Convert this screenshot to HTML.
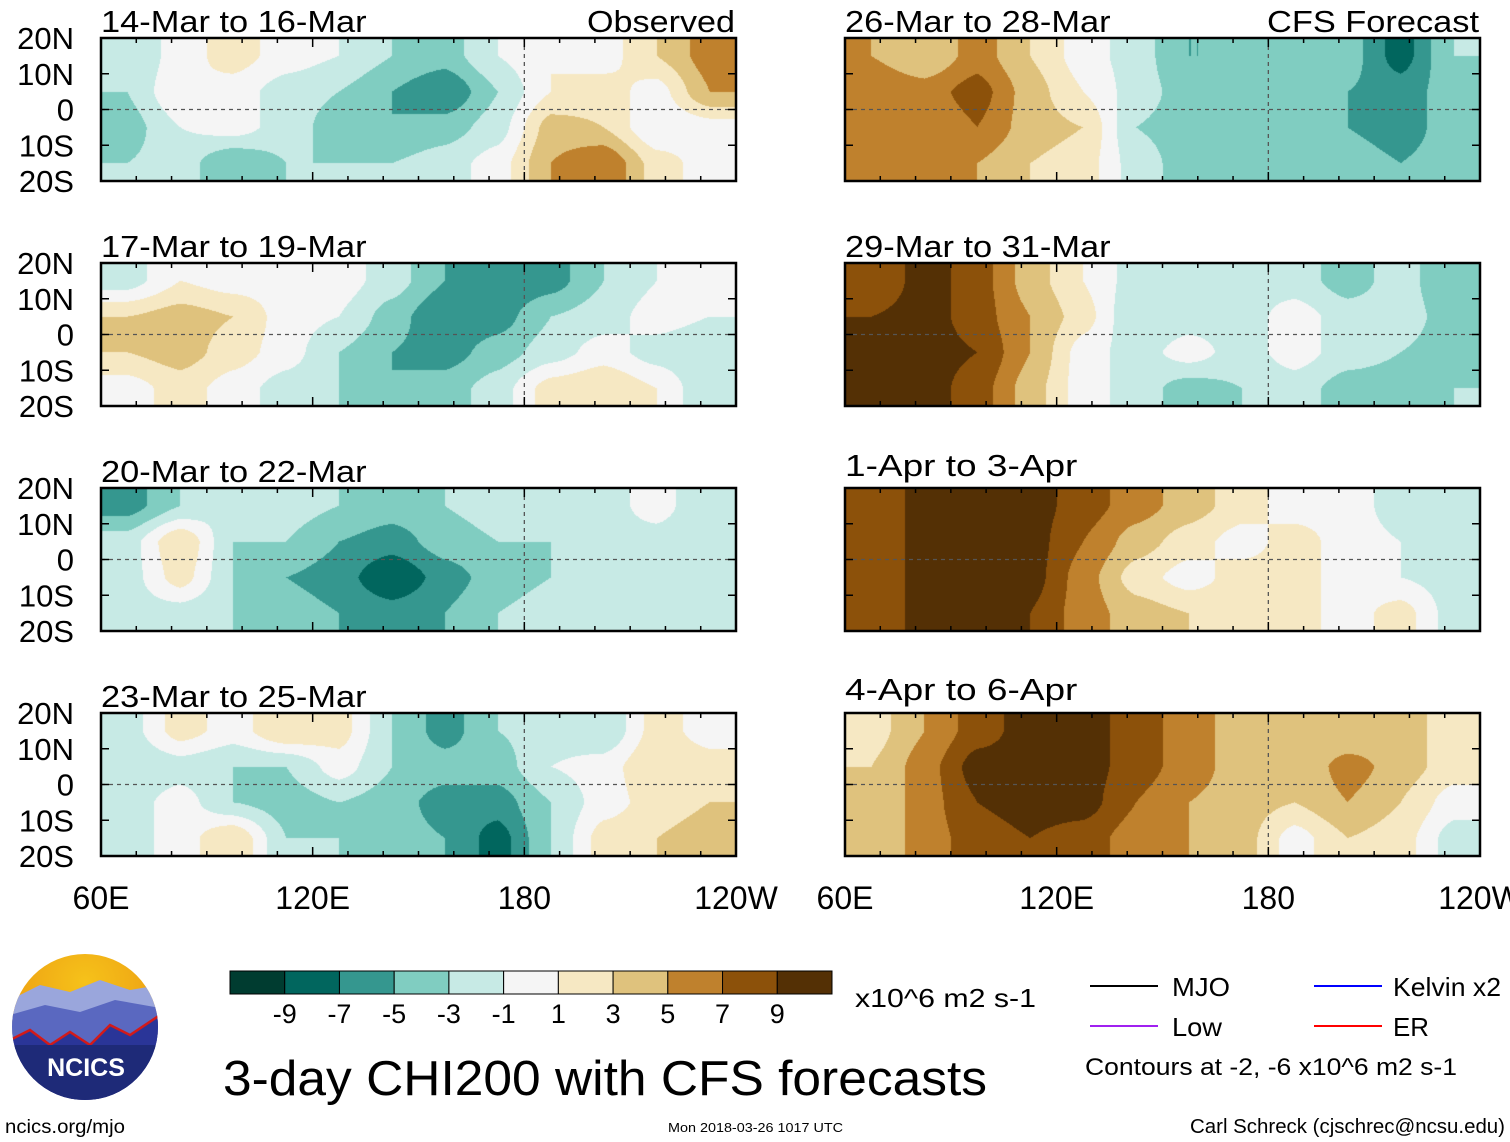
<!DOCTYPE html>
<html><head><meta charset="utf-8">
<style>
html,body{margin:0;padding:0;background:#fff;}
body{width:1510px;height:1142px;overflow:hidden;position:relative;font-family:"Liberation Sans",Arial,sans-serif;}
svg{position:absolute;left:0;top:0;}
canvas{position:absolute;}
</style></head>
<body>
<div id="maps"></div>
<svg id="chart" width="1510" height="1142" viewBox="0 0 1510 1142" xmlns="http://www.w3.org/2000/svg">
<defs>
<radialGradient id="sky" cx="50%" cy="20%" r="70%"><stop offset="0" stop-color="#f6c21a"/><stop offset="1" stop-color="#e98f0f"/></radialGradient>
</defs>
<g id="panels"></g>
<g id="bottom"></g>
</svg>
<script>
// ---- data ----
const lonTicks = ["60E","120E","180","120W"];
const latTicks = ["20N","10N","0","10S","20S"];
const panelTitles = ["14-Mar to 16-Mar","17-Mar to 19-Mar","20-Mar to 22-Mar","23-Mar to 25-Mar","26-Mar to 28-Mar","29-Mar to 31-Mar","1-Apr to 3-Apr","4-Apr to 6-Apr"];
const levelLabels = ["-9","-7","-5","-3","-1","1","3","5","7","9"];
const palette = ["#003c30","#01665e","#35978f","#80cdc1","#c7eae5","#f5f5f5","#f6e8c3","#dfc27d","#bf812d","#8c510a","#543005"];
const field1 = [[-3,0,2,0,-1,-3,-4,-1,1,0,3,6],[-3,1,0,-2,-3,-5,-7,-3,1,2,0,5],[-4,-1,0,-2,-4,-5,-4,-2,4,3,-1,0],[-3,-2,-5,-3,-3,-3,-2,0,5,7,2,0]];
const field2 = [[-2,1,0,0,0,-2,-5,-7,-6,-3,-1,0],[3,4,3,0,-1,-4,-7,-6,-3,-2,0,-1],[3,4,2,0,-3,-5,-6,-4,-2,0,-2,-3],[0,2,0,-2,-3,-5,-4,-2,2,3,1,-3]];
const field3 = [[-6,-3,-1,-2,-3,-4,-3,-2,-3,-2,0,-3],[-2,3,-3,-3,-5,-6,-4,-3,-3,-2,-2,-3],[-2,2,-3,-5,-6,-9,-6,-4,-3,-3,-2,-2],[-2,-2,-3,-4,-5,-6,-5,-3,-2,-3,-2,-3]];
const field4 = [[-2,2,0,3,2,-3,-6,-3,-2,-3,2,0],[-3,-2,-3,-3,0,-3,-4,-4,-1,0,3,2],[-2,0,-3,-4,-3,-4,-6,-6,-3,0,2,3],[-2,0,3,-3,-3,-4,-5,-8,-3,2,3,4]];
const field5 = [[5,3,6,3,0,-2,-5,-5,-3,-4,-8,-3],[7,6,8,4,1,-2,-4,-3,-3,-5,-6,-4],[6,5,7,4,3,-3,-4,-3,-4,-5,-6,-4],[6,6,5,3,2,-2,-4,-4,-4,-4,-5,-4]];
const field6 = [[7,10,8,4,1,-2,-3,-2,-2,-4,-2,-5],[9,10,8,5,2,-3,-2,-2,0,-2,-2,-4],[9,10,9,5,0,-2,0,-2,0,-2,-3,-4],[9,10,8,4,0,-2,-4,-3,-2,-4,-4,-3]];
const field7 = [[7,10,10,10,8,6,4,2,0,0,-2,-3],[7,10,10,10,7,4,2,0,2,0,-1,-3],[7,10,10,10,6,2,0,2,2,0,-1,-2],[7,10,10,9,6,4,3,2,2,0,2,-2]];
const field8 = [[2,5,8,10,10,8,6,4,3,3,4,2],[3,6,10,10,10,8,6,4,3,6,4,2],[3,6,9,10,10,7,5,4,3,5,3,0],[3,6,8,9,8,6,5,4,0,3,2,-2]];
const fields = [field1,field2,field3,field4,field5,field6,field7,field8];

const NS="http://www.w3.org/2000/svg";
function mk(tag,attrs,parent){const e=document.createElementNS(NS,tag);for(const k in attrs)e.setAttribute(k,attrs[k]);if(parent)parent.appendChild(e);return e;}
function colorIdx(v){let i=Math.floor((v+11)/2);return Math.max(0,Math.min(10,i));}
function hex(h){return [parseInt(h.substr(1,2),16),parseInt(h.substr(3,2),16),parseInt(h.substr(5,2),16)];}
const palRGB=palette.map(hex);

const colX=[101,845], rowY=[38,263,488,713], PW=635, PH=143;
const titleY=[[32,257,482,707],[32,257,476,700]];
const root=document.getElementById('panels');
const maps=document.getElementById('maps');
function xScale(p,lon){return colX[p]+(lon-60)/180*PW;}
function yScale(r,lat){return rowY[r]+(20-lat)/40*PH;}
function sm(t){return 0.5*t+0.5*t*t*(3-2*t);}
function sample(f,u,v){
  const nr=f.length,nc=f[0].length;
  u=Math.max(0,Math.min(nc-1,u)); v=Math.max(0,Math.min(nr-1,v));
  const j=Math.min(nc-2,Math.floor(u)), i=Math.min(nr-2,Math.floor(v));
  const a=sm(u-j), b=sm(v-i);
  return (f[i][j]*(1-a)+f[i][j+1]*a)*(1-b)+(f[i+1][j]*(1-a)+f[i+1][j+1]*a)*b;
}

for(let k=0;k<8;k++){
  const c=Math.floor(k/4), r=k%4, x0=colX[c], y0=rowY[r];
  const f=fields[k], nr=f.length, nc=f[0].length;
  const cv=document.createElement('canvas');
  cv.width=PW; cv.height=PH;
  cv.style.left=x0+'px'; cv.style.top=y0+'px';
  
  
  maps.appendChild(cv);
  const ctx=cv.getContext('2d'); const img=ctx.createImageData(PW,PH);
  for(let py=0;py<PH;py++){
    const lat=20-(py+0.5)/PH*40;
    const v=(20-lat)/40*nr-0.5;
    for(let px=0;px<PW;px++){
      const lon=60+(px+0.5)/PW*180;
      const u=(lon-60)/180*nc-0.5;
      const val=sample(f,u,v);
      const col=palRGB[colorIdx(val)];
      const o=(py*PW+px)*4; img.data[o]=col[0];img.data[o+1]=col[1];img.data[o+2]=col[2];img.data[o+3]=255;
    }
  }
  ctx.putImageData(img,0,0);

  const g=mk('g',{},root);
  
  
  mk('line',{x1:x0,x2:x0+PW,y1:yScale(r,0),y2:yScale(r,0),stroke:'#555','stroke-width':1.3,'stroke-dasharray':'4 4'},g);
  mk('line',{x1:xScale(c,180),x2:xScale(c,180),y1:y0,y2:y0+PH,stroke:'#555','stroke-width':1.3,'stroke-dasharray':'4 4'},g);
  for(let lon=60;lon<=240;lon+=10){const xx=xScale(c,lon);const big=(lon%60===0)?9:5;
    mk('line',{x1:xx,x2:xx,y1:y0,y2:y0+big,stroke:'#000','stroke-width':1.5},g);
    mk('line',{x1:xx,x2:xx,y1:y0+PH,y2:y0+PH-big,stroke:'#000','stroke-width':1.5},g);}
  for(let lat=-20;lat<=20;lat+=10){const yy=yScale(r,lat);
    mk('line',{x1:x0,x2:x0+8,y1:yy,y2:yy,stroke:'#000','stroke-width':1.5},g);
    mk('line',{x1:x0+PW,x2:x0+PW-8,y1:yy,y2:yy,stroke:'#000','stroke-width':1.5},g);}
  const fr=mk('rect',{x:x0,y:y0,width:PW,height:PH,fill:'none',stroke:'#000','stroke-width':2.5},g);
  
  
  const tl=panelTitles[k].length;
  const t=mk('text',{x:x0,y:titleY[c][r],'font-size':31,fill:'#000',textLength:tl*16.6,lengthAdjust:'spacingAndGlyphs'},g);t.textContent=panelTitles[k];
  
  
  if(r===0){const lab=c===0?'Observed':'CFS Forecast';
    const s=mk('text',{x:x0+PW-1-(c===0?148:212),y:32,'font-size':31,textLength:c===0?148:212,lengthAdjust:'spacingAndGlyphs'},g);s.textContent=lab;
    
    }
  if(c===0){latTicks.forEach((lb,i)=>{const tt=mk('text',{x:74,y:yScale(r,20-i*10)+11,'font-size':31,'text-anchor':'end'},g);tt.textContent=lb;
    
    });}
  if(r===3){lonTicks.forEach((lb,i)=>{const tt=mk('text',{x:xScale(c,60+i*60),y:909,'font-size':32,'text-anchor':'middle'},g);tt.textContent=lb;
    
    });}
}

const bot=document.getElementById('bottom');
const cb=mk('g',{},bot);


const cbx=230, cbw=602/11;
palette.forEach((col,i)=>{const rr=mk('rect',{x:cbx+i*cbw,y:971,width:cbw,height:23,fill:col,stroke:'#000','stroke-width':1},cb);
  
  });
levelLabels.forEach((lb,i)=>{const tt=mk('text',{x:cbx+(i+1)*cbw,y:1023,'font-size':27,'text-anchor':'middle'},cb);tt.textContent=lb;
  
  });
function txt(x,y,s,size,name,len){const t=mk('text',{x:x,y:y,'font-size':size},bot);t.textContent=s;
  if(len){t.setAttribute('textLength',len);t.setAttribute('lengthAdjust','spacingAndGlyphs');}
  
  return t;}
txt(855,1007,'x10^6 m2 s-1',26,'colorbar-units',181);
txt(223,1095,'3-day CHI200 with CFS forecasts',49,'chart-title',764);
txt(5,1133,'ncics.org/mjo',19,'source-url',120);
txt(668,1132,'Mon 2018-03-26 1017 UTC',13,'timestamp',175);
txt(1190,1133,'Carl Schreck (cjschrec@ncsu.edu)',20,'author-credit',315);
txt(1085,1075,'Contours at -2, -6 x10^6 m2 s-1',24,'contour-note',372);
const leg=[['MJO','#000',1090,1172,988,58],['Low','#a020f0',1090,1172,1028,50],['Kelvin x2','#0000ff',1314,1393,988,108],['ER','#ff0000',1314,1393,1028,36]];
leg.forEach(l=>{const g=mk('g',{},bot);
  
  
  mk('line',{x1:l[2],x2:l[2]+68,y1:l[4]-2,y2:l[4]-2,stroke:l[1],'stroke-width':2},g);
  const t=mk('text',{x:l[3],y:l[4]+8,'font-size':26,textLength:l[5],lengthAdjust:'spacingAndGlyphs'},g);t.textContent=l[0];});
const lg=mk('g',{},bot);


mk('clipPath',{id:'lc'},lg).appendChild(mk('circle',{cx:85,cy:1027,r:73}));
const lgi=mk('g',{'clip-path':'url(#lc)'},lg);
mk('rect',{x:0,y:950,width:170,height:160,fill:'url(#sky)'},lgi);
mk('path',{d:'M10 1000 L40 985 L70 992 L100 980 L130 990 L160 985 L160 1110 L10 1110Z',fill:'#9aa6dc'},lgi);
mk('path',{d:'M10 1015 L45 1005 L80 1012 L115 1000 L160 1008 L160 1110 L10 1110Z',fill:'#5a68c0'},lgi);
mk('path',{d:'M10 1040 L30 1030 L50 1045 L70 1032 L90 1045 L110 1025 L130 1035 L160 1015 L160 1110 L10 1110Z',fill:'#2a3598',stroke:'#d21a1a','stroke-width':2.5},lgi);
mk('rect',{x:0,y:1045,width:170,height:70,fill:'#1e2a78'},lgi);
const lt=mk('text',{x:86,y:1076,'font-size':25,'font-weight':'bold',fill:'#fff','text-anchor':'middle'},lg);lt.textContent='NCICS';
</script>
</body></html>
